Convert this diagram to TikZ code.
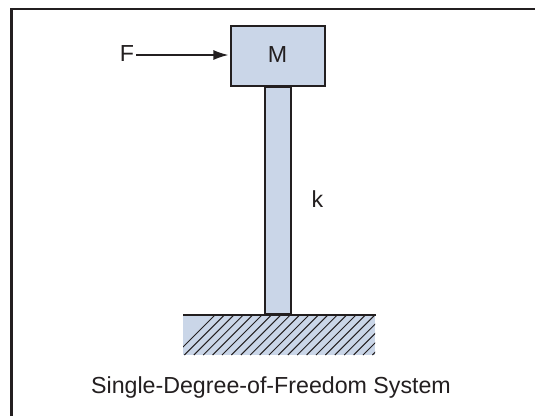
\documentclass[tikz,border=0pt]{standalone}
\usepackage{fontspec}
\setmainfont{Liberation Sans}
\usetikzlibrary{arrows.meta,calc}
\definecolor{fillblue}{HTML}{CAD6E8}
\definecolor{ink}{HTML}{231F20}
\tikzset{
  x=1pt,y=-1pt,
  part/.style={draw=ink,fill=fillblue,line width=1.9pt,inner sep=0pt},
  lbl/.style={text=ink,font=\fontsize{23.2}{26}\selectfont,inner sep=0pt},
  hatchline/.style={draw=ink,line width=1pt},
}
\begin{document}
\begin{tikzpicture}
\useasboundingbox (0,0) rectangle (535,416);
\fill[white] (0,0) rectangle (535,416);
\draw[ink,line width=2.6pt] (11.5,416) -- (11.5,9) -- (535,9);
% ground
\fill[fillblue] (183,315) rectangle (375,355);
\begin{scope}
\clip (183,315) rectangle (375,355);
\foreach \i in {0,...,24}{
  \draw[hatchline] ({175+\i*9.4},355) -- ({175+\i*9.4+40},315);
}
\end{scope}
\node[part,minimum width=26.6pt,minimum height=227pt,anchor=north west] (column) at (263.7,86) {};
\node[part,minimum width=93.2pt,minimum height=60pt,anchor=north west] (mass) at (230.4,25.1) {};
\node[lbl,anchor=base] (mlabel) at (277.5,62) {M};
\node[lbl,anchor=base] (force) at (127,61.5) {F};
\coordinate (push) at ($(mass.west)+(-2,0)$);
\coordinate (tail) at (136,55);
\draw[ink,line width=1.5pt,-{Latex[length=15pt,width=10pt]}] (tail) -- (tail -| push);
\node[lbl,anchor=base] (klabel) at (317.5,207.5) {k};
\draw[ink,line width=2pt] (183,315) coordinate (gl) -- (376,315) coordinate (gr);
\node[lbl,anchor=base] (caption) at (271,393) {Single-Degree-of-Freedom System};
\end{tikzpicture}
\end{document}
